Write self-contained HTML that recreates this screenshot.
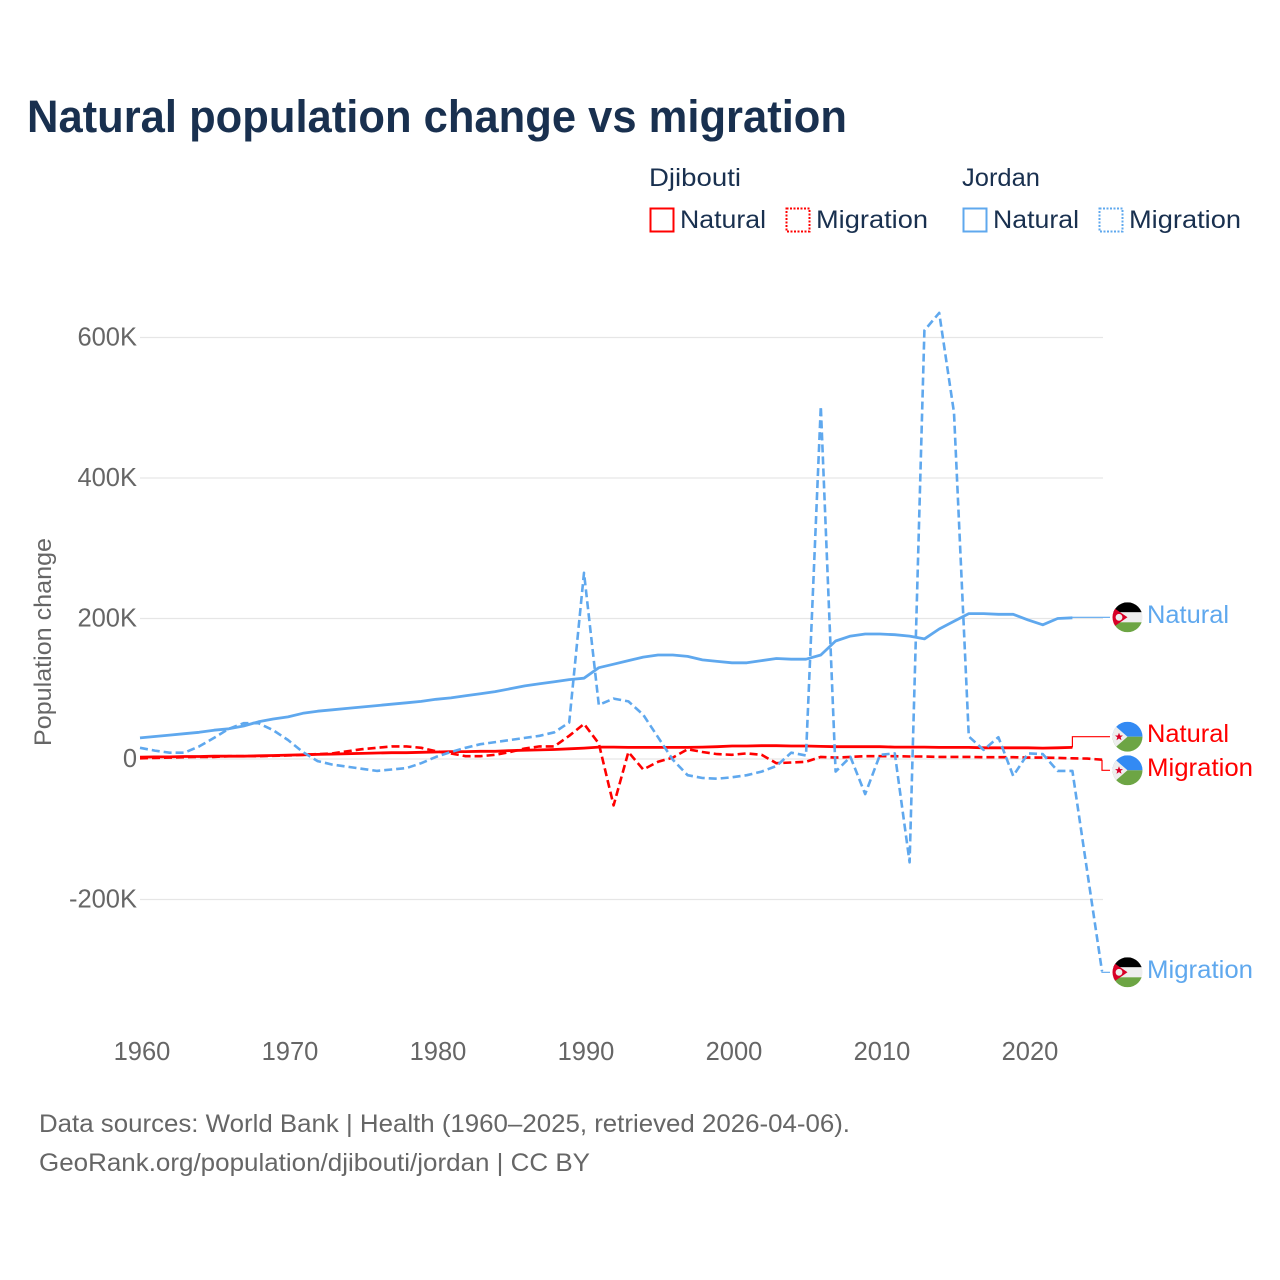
<!DOCTYPE html>
<html lang="en">
<head>
<meta charset="utf-8">
<title>Natural population change vs migration</title>
<style>
html,body{margin:0;padding:0;background:#fff;width:1280px;height:1280px;overflow:hidden}
svg{display:block;font-family:"Liberation Sans",sans-serif}
</style>
</head>
<body>
<svg id="chart" width="1280" height="1280" viewBox="0 0 1280 1280">
  <defs>
    <clipPath id="flag-clip"><circle cx="0" cy="0" r="15"/></clipPath>
  </defs>
  <rect width="1280" height="1280" fill="#ffffff"/>
  <text x="27" y="132" font-size="45" font-weight="700" fill="#19304f" textLength="820" lengthAdjust="spacingAndGlyphs">Natural population change vs migration</text>

  <g font-size="25" fill="#19304f">
    <text x="649" y="186" textLength="92" lengthAdjust="spacingAndGlyphs">Djibouti</text>
    <text x="962" y="186" textLength="78" lengthAdjust="spacingAndGlyphs">Jordan</text>
    <rect x="650.5" y="208.5" width="23" height="23" fill="none" stroke="#ff0000" stroke-width="2"/>
    <text x="680" y="228" textLength="86" lengthAdjust="spacingAndGlyphs">Natural</text>
    <rect x="786.5" y="208.5" width="23" height="23" fill="none" stroke="#ff0000" stroke-width="2" stroke-dasharray="2 1.5"/>
    <text x="816" y="228" textLength="112" lengthAdjust="spacingAndGlyphs">Migration</text>
    <rect x="963.5" y="208.5" width="23" height="23" fill="none" stroke="#5fa8ee" stroke-width="2"/>
    <text x="993" y="228" textLength="86" lengthAdjust="spacingAndGlyphs">Natural</text>
    <rect x="1099.5" y="208.5" width="23" height="23" fill="none" stroke="#5fa8ee" stroke-width="2" stroke-dasharray="2 1.5"/>
    <text x="1129" y="228" textLength="112" lengthAdjust="spacingAndGlyphs">Migration</text>
  </g>

  <g id="grid-layer"></g>
  <g id="tick-layer" font-size="25.5" fill="#666666"></g>
  <text transform="translate(51,642) rotate(-90)" text-anchor="middle" font-size="24" fill="#666666" textLength="208" lengthAdjust="spacingAndGlyphs">Population change</text>
  <g id="line-layer"></g>

  <g transform="translate(1127.5,617.3)" clip-path="url(#flag-clip)">
    <rect x="-15" y="-15" width="30" height="10" fill="#000000"/><rect x="-15" y="-5" width="30" height="10" fill="#eeeeee"/><rect x="-15" y="5" width="30" height="10" fill="#6da544"/>
    <path d="M-16,-11 L0,0 L-16,11 Z" fill="#d80027"/><circle cx="-8.5" cy="0" r="3.4" fill="#eeeeee"/>
  </g>
  <g transform="translate(1127.5,736.7)" clip-path="url(#flag-clip)">
    <rect x="-15" y="-15" width="30" height="15" fill="#338af3"/><rect x="-15" y="0" width="30" height="15" fill="#6da544"/>
    <path d="M-16,-14 L0,0 L-16,14 Z" fill="#eeeeee"/>
    <path d="M-8.5,-4 L-7.4,-1.2 L-4.5,-1.2 L-6.8,0.6 L-6,3.5 L-8.5,1.8 L-11,3.5 L-10.2,0.6 L-12.5,-1.2 L-9.6,-1.2 Z" fill="#d80027"/>
  </g>
  <g transform="translate(1127.5,770.3)" clip-path="url(#flag-clip)">
    <rect x="-15" y="-15" width="30" height="15" fill="#338af3"/><rect x="-15" y="0" width="30" height="15" fill="#6da544"/>
    <path d="M-16,-14 L0,0 L-16,14 Z" fill="#eeeeee"/>
    <path d="M-8.5,-4 L-7.4,-1.2 L-4.5,-1.2 L-6.8,0.6 L-6,3.5 L-8.5,1.8 L-11,3.5 L-10.2,0.6 L-12.5,-1.2 L-9.6,-1.2 Z" fill="#d80027"/>
  </g>
  <g transform="translate(1127.5,972.3)" clip-path="url(#flag-clip)">
    <rect x="-15" y="-15" width="30" height="10" fill="#000000"/><rect x="-15" y="-5" width="30" height="10" fill="#eeeeee"/><rect x="-15" y="5" width="30" height="10" fill="#6da544"/>
    <path d="M-16,-11 L0,0 L-16,11 Z" fill="#d80027"/><circle cx="-8.5" cy="0" r="3.4" fill="#eeeeee"/>
  </g>

  <text x="1147" y="623" font-size="25" fill="#5fa8ee" textLength="82" lengthAdjust="spacingAndGlyphs">Natural</text>
  <text x="1147" y="742" font-size="25" fill="#ff0000" textLength="82" lengthAdjust="spacingAndGlyphs">Natural</text>
  <text x="1147" y="776" font-size="25" fill="#ff0000" textLength="106" lengthAdjust="spacingAndGlyphs">Migration</text>
  <text x="1147" y="978" font-size="25" fill="#5fa8ee" textLength="106" lengthAdjust="spacingAndGlyphs">Migration</text>

  <g font-size="25" fill="#666666">
    <text x="39" y="1132" textLength="811" lengthAdjust="spacingAndGlyphs">Data sources: World Bank | Health (1960–2025, retrieved 2026-04-06).</text>
    <text x="39" y="1171" textLength="551" lengthAdjust="spacingAndGlyphs">GeoRank.org/population/djibouti/jordan | CC BY</text>
  </g>
</svg>
<script>
const startYear = 1960;
const xTickYears = [1960, 1970, 1980, 1990, 2000, 2010, 2020];
const yTickValues = [600, 400, 200, 0, -200];
const yTickLabels = ['600K', '400K', '200K', '0', '-200K'];
/* values in thousands, one per year from 1960 */
const jordanNatural = [30,32,34,36,38,41,43,47,53,57,60,65,68,70,72,74,76,78,80,82,85,87,90,93,96,100,104,107,110,113,115,130,135,140,145,148,148,146,141,139,137,137,140,143,142,142,148,168,175,178,178,177,175,171,185,196,207,207,206,206,198,191,200,201];
const jordanMigration = [16,12,9,9,18,30,43,51,51,41,27,10,-3,-8,-11,-14,-17,-15,-13,-6,3,10,16,21,24,27,30,33,38,52,265,77,86,82,63,31,-1,-23,-27,-28,-26,-23,-18,-10,9,5,502,-18,3,-50,6,8,-147,610,635,493,32,13,31,-24,8,7,-17,-17,-160,-302];
const djiboutiNatural = [2.5,3,3,3.5,3.5,4,4,4,4.5,5,5.5,6,6.5,7,7.5,8,8.5,9,9,9.5,10,10.5,10.5,11,11,12,12.5,13,13.5,14.5,15.5,17,17,16.5,16.5,16.5,16.5,16.5,17,17.5,18.5,18.5,19,19,18.5,18.5,18,17.5,17.5,17.5,17.5,17,17,17,16.5,16.5,16.5,16,16,16,16,15.5,16,16.5];
const djiboutiMigration = [1,1.5,2,2.5,3,3,4,4,4,4.5,5,6,7,8,11,14,16,18,18,16,11,8,4,4,6,10,15,18,18,33,50,22,-66,10,-15,-4,2,14,10,7,6,8,6,-6,-5,-4,3,2,3,4,4,4,3.5,3.5,3,3,3,2.5,2.5,2.5,2,2,1.5,1,0.5,-1];
const endLabelY = { jordanNatural: 617.3, jordanMigration: 972.3, djiboutiNatural: 736.7, djiboutiMigration: 770.3 };

const NS = 'http://www.w3.org/2000/svg';
function xScale(year) { return 140 + (year - startYear) * 14.8; }
function yScale(v) { return 759 - v * 0.7025; }
function make(tag, attrs) {
  const el = document.createElementNS(NS, tag);
  for (const k in attrs) el.setAttribute(k, attrs[k]);
  return el;
}
const gridLayer = document.getElementById('grid-layer');
const tickLayer = document.getElementById('tick-layer');
const lineLayer = document.getElementById('line-layer');

yTickValues.forEach(function (v, i) {
  const line = make('line', { x1: 140, x2: 1103, y1: yScale(v), y2: yScale(v), stroke: '#e6e6e6', 'stroke-width': 1.2 });
  
  
  gridLayer.appendChild(line);
  const label = make('text', { x: 137, y: yScale(v) + 8, 'text-anchor': 'end' });
  
  
  label.textContent = yTickLabels[i];
  tickLayer.appendChild(label);
});
xTickYears.forEach(function (year) {
  const label = make('text', { x: xScale(year) + 2, y: 1060, 'text-anchor': 'middle' });
  
  
  label.textContent = String(year);
  tickLayer.appendChild(label);
});

function drawSeries(values, color, dashed, name, labelY) {
  const pts = values.map(function (v, i) {
    return xScale(startYear + i).toFixed(1) + ',' + yScale(v).toFixed(1);
  });
  const attrs = { points: pts.join(' '), fill: 'none', stroke: color, 'stroke-width': dashed ? 2.6 : 2.8, 'stroke-linejoin': 'round' };
  if (dashed) attrs['stroke-dasharray'] = '8 4';
  const line = make('polyline', attrs);
  
  
  lineLayer.appendChild(line);
  const lastX = xScale(startYear + values.length - 1);
  const lastY = yScale(values[values.length - 1]);
  const conn = make('polyline', {
    points: lastX + ',' + lastY + ' ' + lastX + ',' + labelY + ' 1110,' + labelY,
    fill: 'none', stroke: color, 'stroke-width': 1.2
  });
  
  
  lineLayer.appendChild(conn);
}
drawSeries(djiboutiNatural, '#ff0000', false, 'line-djibouti-natural', endLabelY.djiboutiNatural);
drawSeries(djiboutiMigration, '#ff0000', true, 'line-djibouti-migration', endLabelY.djiboutiMigration);
drawSeries(jordanNatural, '#5fa8ee', false, 'line-jordan-natural', endLabelY.jordanNatural);
drawSeries(jordanMigration, '#5fa8ee', true, 'line-jordan-migration', endLabelY.jordanMigration);
</script>
</body>
</html>
